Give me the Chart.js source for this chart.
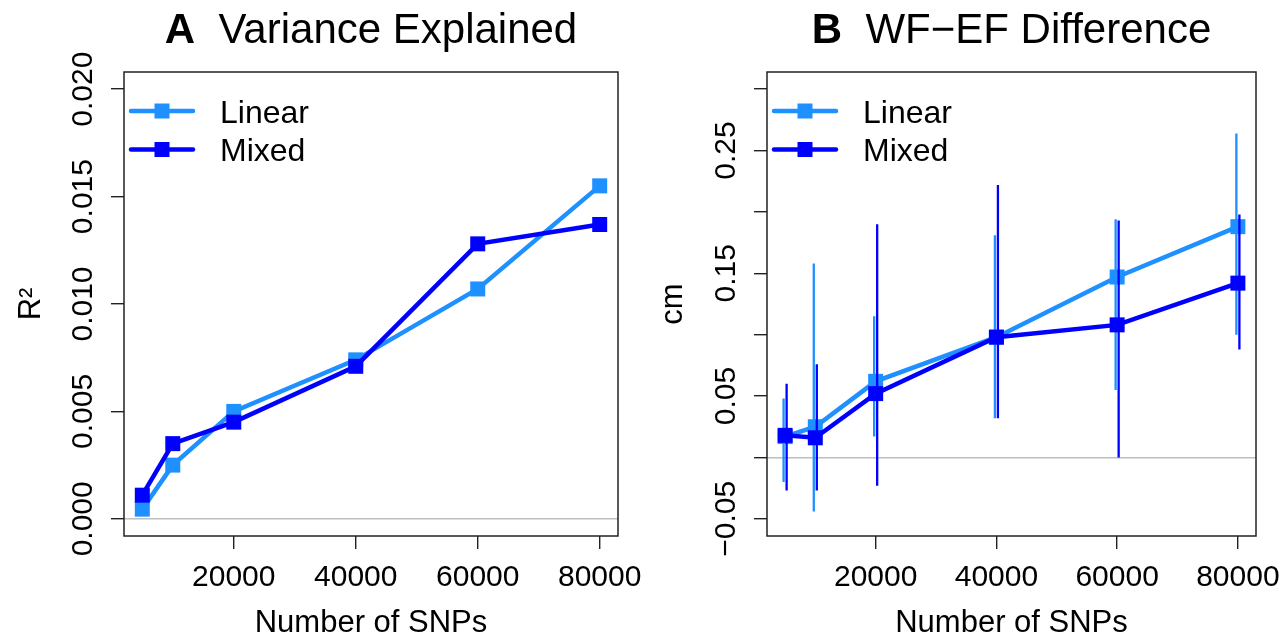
<!DOCTYPE html>
<html>
<head>
<meta charset="utf-8">
<script src="https://cdn.jsdelivr.net/npm/chart.js@4.4.1/dist/chart.umd.min.js"></script>
<style>
  body { margin: 0; background: #fff; font-family: 'Liberation Sans', Arial, Helvetica, sans-serif; }
  #wrap { position: relative; width: 1284px; height: 642px; }
  .panel { position: absolute; top: 0; width: 642px; height: 642px; }
  .title { position: absolute; top: 7.5px; font-size: 42px; line-height: 42px; text-align: center; white-space: pre; color: #000; }
</style>
</head>
<body>
<div id="wrap">
  <div class="panel" style="left:0"><canvas id="chartA" width="642" height="642"></canvas></div>
  <div class="panel" style="left:642px"><canvas id="chartB" width="642" height="642"></canvas></div>
  <div class="title" style="left:124px;width:494px"><b>A</b>  Variance Explained</div>
  <div class="title" style="left:767px;width:489px"><b>B</b>  WF−EF Difference</div>
</div>
<script>
// values
const snps = [5000, 10000, 20000, 40000, 60000, 80000];
const seriesNames = ['Linear', 'Mixed'];

const r2Linear = [0.00045, 0.0025, 0.0050, 0.0074, 0.0107, 0.0155];
const r2Mixed = [0.0011, 0.0035, 0.0045, 0.0071, 0.0128, 0.0137];

const cmLinear = [0.017, 0.025, 0.062, 0.098, 0.147, 0.188];
const cmLinearLo = [-0.020, -0.044, 0.017, 0.032, 0.055, 0.100];
const cmLinearHi = [0.048, 0.158, 0.115, 0.181, 0.194, 0.264];
const cmMixed = [0.018, 0.016, 0.052, 0.098, 0.108, 0.142];
const cmMixedLo = [-0.027, -0.027, -0.023, 0.032, 0.000, 0.088];
const cmMixedHi = [0.060, 0.076, 0.190, 0.222, 0.193, 0.198];

const xTicks = [20000, 40000, 60000, 80000];
const yTicksA = [0, 0.005, 0.01, 0.015, 0.02];
const yLabelsA = ['0.000', '0.005', '0.010', '0.015', '0.020'];
const yTicksB = [-0.05, 0, 0.05, 0.1, 0.15, 0.2, 0.25, 0.3];
const yLabelsB = ['\u22120.05', '', '0.05', '', '0.15', '', '0.25', ''];

const family = "'Liberation Sans', Arial, Helvetica, sans-serif";
const light = '#1E90FF';
const dark = '#0000FF';
const colors = [light, dark];
const errOffset = 250; // bars sit a little left/right of the point

const frame = {
    id: 'frame',
    beforeDatasetsDraw(chart) {
        const { ctx, chartArea: a } = chart;
        ctx.save();
        ctx.strokeStyle = '#222';
        ctx.lineWidth = 1.5;
        ctx.strokeRect(a.left, a.top, a.right - a.left, a.bottom - a.top);
        ctx.restore();
    }
};

const insetLegend = {
    id: 'insetLegend',
    afterDatasetsDraw(chart) {
        const { ctx, chartArea: a } = chart;
        seriesNames.forEach((label, i) => {
            const y = a.top + 39 + i * 38.5;
            ctx.save();
            ctx.strokeStyle = colors[i];
            ctx.lineWidth = 4.5;
            ctx.lineCap = 'round';
            ctx.beginPath();
            ctx.moveTo(a.left + 7, y);
            ctx.lineTo(a.left + 69, y);
            ctx.stroke();
            ctx.fillStyle = colors[i];
            ctx.fillRect(a.left + 38 - 7.5, y - 7.5, 15, 15);
            ctx.fillStyle = '#000';
            ctx.font = `32px ${family}`;
            ctx.textBaseline = 'alphabetic';
            ctx.fillText(label, a.left + 96, y + 11.5);
            ctx.restore();
        });
    }
};

const series = (label, ys, color, order) => ({
    label,
    data: snps.map((x, i) => ({ x, y: ys[i] })),
    borderColor: color,
    backgroundColor: color,
    borderWidth: 4.5,
    borderCapStyle: 'round',
    pointStyle: 'rect',
    pointRadius: 10.6,
    pointBorderWidth: 0,
    pointBackgroundColor: color,
    order
});

const errBars = (label, lo, hi, dx, color, order) => ({
    label,
    data: snps.flatMap((x, i) => [
        { x: x + dx, y: lo[i] },
        { x: x + dx, y: hi[i] },
        { x: x + dx, y: null }
    ]),
    borderColor: color,
    borderWidth: 2.3,
    pointRadius: 0,
    spanGaps: false,
    order
});

const xScale = {
    type: 'linear',
    min: 2000,
    max: 83000,
    afterBuildTicks: s => { s.ticks = xTicks.map(v => ({ value: v })); },
    afterFit: s => { s.height = 106; s.paddingLeft = 0; s.paddingRight = 0; },
    grid: { display: true, drawOnChartArea: false, drawTicks: true, tickLength: 13, color: '#222', tickColor: '#222', lineWidth: 1.4 },
    border: { display: false },
    ticks: {
        autoSkip: false, maxRotation: 0, padding: 10.5, color: '#000',
        font: { family, size: 30 },
        callback: v => String(v)
    },
    title: {
        display: true, text: 'Number of SNPs', color: '#000',
        font: { family, size: 31 }, padding: { top: 0, bottom: 0 }
    }
};

const yScale = (min, max, tickVals, labels, width, title) => ({
    type: 'linear',
    min,
    max,
    afterBuildTicks: s => { s.ticks = tickVals.map(v => ({ value: v })); },
    afterFit: s => { s.width = width; s.paddingTop = 0; s.paddingBottom = 0; },
    grid: {
        display: true, drawOnChartArea: true, drawTicks: true, tickLength: 13,
        color: c => (c.tick && c.tick.value === 0 ? '#bebebe' : 'rgba(0,0,0,0)'),
        tickColor: '#222', lineWidth: 1.4
    },
    border: { display: false },
    ticks: {
        autoSkip: false, minRotation: 90, maxRotation: 90, crossAlign: 'center', padding: -10.5,
        color: '#000', font: { family, size: 30 },
        callback: (v, i) => labels[i]
    },
    title: {
        display: true, text: title, color: '#000',
        font: { family, size: 31 }, padding: { top: 13, bottom: 0 }
    }
});

const baseOptions = (yOpts, rightPad) => ({
    responsive: false,
    animation: false,
    layout: { padding: { top: 72, right: rightPad, left: 0, bottom: 0 } },
    plugins: { legend: { display: false }, tooltip: { enabled: false } },
    scales: { x: xScale, y: yOpts }
});

new Chart(document.getElementById('chartA'), {
    type: 'line',
    data: {
        datasets: [
            series(seriesNames[0], r2Linear, light, 2),
            series(seriesNames[1], r2Mixed, dark, 1)
        ]
    },
    options: baseOptions(yScale(-0.0008, 0.0208, yTicksA, yLabelsA, 124, 'R\u00B2'), 24),
    plugins: [frame, insetLegend]
});

new Chart(document.getElementById('chartB'), {
    type: 'line',
    data: {
        datasets: [
            series(seriesNames[0], cmLinear, light, 4),
            errBars(seriesNames[0] + ' interval', cmLinearLo, cmLinearHi, -errOffset, light, 3),
            series(seriesNames[1], cmMixed, dark, 2),
            errBars(seriesNames[1] + ' interval', cmMixedLo, cmMixedHi, errOffset, dark, 1)
        ]
    },
    options: baseOptions(yScale(-0.064, 0.314, yTicksB, yLabelsB, 125, 'cm'), 28),
    plugins: [frame, insetLegend]
});
</script>
</body>
</html>
